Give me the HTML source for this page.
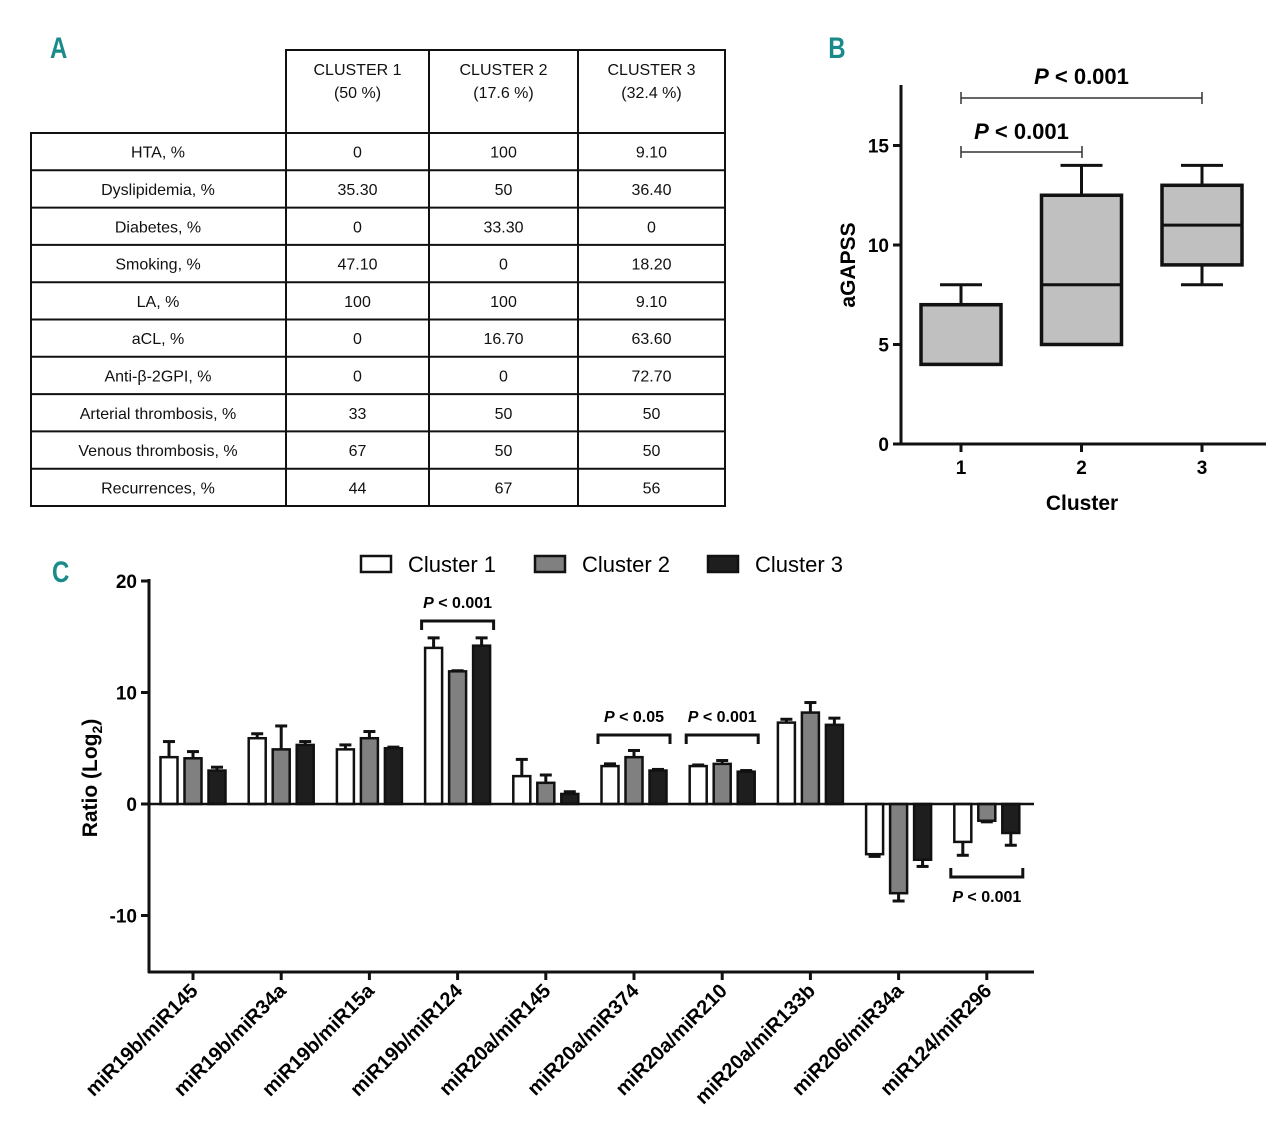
<!DOCTYPE html>
<html><head><meta charset="utf-8"><style>
body{margin:0;background:#fff;}
svg{display:block;font-family:"Liberation Sans",sans-serif;}
.t{font-size:16px;fill:#111;}
</style></head><body>
<svg id="s" width="1280" height="1127" viewBox="0 0 1280 1127">
<g id="tbl"></g>
<g id="pb"></g>
<g id="pc"></g>
<text x="48" y="58" font-size="30" font-weight="bold" fill="#1a8a8a" style="transform:scale(0.8,1);transform-origin:58px 46px">A</text>
<text x="826" y="58" font-size="30" font-weight="bold" fill="#1a8a8a" style="transform:scale(0.8,1);transform-origin:837px 46px">B</text>
<text x="50" y="582" font-size="30" font-weight="bold" fill="#1a8a8a" style="transform:scale(0.8,1);transform-origin:60px 570px">C</text>
</svg>
<script>
const NS="http://www.w3.org/2000/svg";
function mk(p,tag,a,txt){const e=document.createElementNS(NS,tag);for(const k in a)e.setAttribute(k,a[k]);if(txt!==undefined)e.textContent=txt;p.appendChild(e);return e;}

// ---------- Table A ----------
const tblHeaders=[["CLUSTER 1","(50 %)"],["CLUSTER 2","(17.6 %)"],["CLUSTER 3","(32.4 %)"]];
const tblRows=["HTA, %","Dyslipidemia, %","Diabetes, %","Smoking, %","LA, %","aCL, %","Anti-β-2GPI, %","Arterial thrombosis, %","Venous thrombosis, %","Recurrences, %"];
const tblC1=["0","35.30","0","47.10","100","0","0","33","67","44"];
const tblC2=["100","50","33.30","0","100","16.70","0","50","50","67"];
const tblC3=["9.10","36.40","0","18.20","9.10","63.60","72.70","50","50","56"];
const T=document.getElementById('tbl');
const cx=[31,286,429,578,725], rowTop=133, rh=37.3;
let r=mk(T,'rect',{x:286,y:50,width:439,height:83,fill:'none',stroke:'#111','stroke-width':2});

tblHeaders.forEach((h,i)=>{const m=(cx[i+1]+cx[i+2])/2;
 if(i>0)mk(T,'line',{x1:cx[i+1],y1:50,x2:cx[i+1],y2:133,stroke:'#111','stroke-width':2});
 let a=mk(T,'text',{x:m,y:75,'text-anchor':'middle',class:'t'},h[0]);
 mk(T,'text',{x:m,y:98,'text-anchor':'middle',class:'t'},h[1]);});
mk(T,'rect',{x:31,y:rowTop,width:694,height:rh*10,fill:'none',stroke:'#111','stroke-width':2});
for(let i=1;i<4;i++)mk(T,'line',{x1:cx[i],y1:rowTop,x2:cx[i],y2:rowTop+rh*10,stroke:'#111','stroke-width':2});
tblRows.forEach((lab,i)=>{const y=rowTop+rh*i;
 if(i>0)mk(T,'line',{x1:31,y1:y,x2:725,y2:y,stroke:'#111','stroke-width':2});
 const ty=y+rh/2+6;
 let a=mk(T,'text',{x:158,y:ty,'text-anchor':'middle',class:'t'},lab);
 [tblC1,tblC2,tblC3].forEach((col,j)=>{let c=mk(T,'text',{x:(cx[j+1]+cx[j+2])/2,y:ty,'text-anchor':'middle',class:'t'},col[i]);});
});

// ---------- Box plot B ----------
const bCats=["1","2","3"];
const bMin=[4,5,8], bQ1=[4,5,9], bMed=[7,8,11], bQ3=[7,12.5,13], bMax=[8,14,14];
const bTicks=[0,5,10,15];
const B=document.getElementById('pb');
const by=v=>444-v*19.9, bx=i=>961+i*120.5;
mk(B,'line',{x1:901,y1:85,x2:901,y2:445,stroke:'#111','stroke-width':3});
mk(B,'line',{x1:900,y1:444,x2:1266,y2:444,stroke:'#111','stroke-width':3});
bTicks.forEach(t=>{mk(B,'line',{x1:893,y1:by(t),x2:901,y2:by(t),stroke:'#111','stroke-width':3});
 let e=mk(B,'text',{x:889,y:by(t)+7,'text-anchor':'end','font-size':19,'font-weight':'bold'},t);});
bCats.forEach((c,i)=>{const x=bx(i);
 mk(B,'line',{x1:x,y1:444,x2:x,y2:452,stroke:'#111','stroke-width':3});
 let e=mk(B,'text',{x:x,y:474,'text-anchor':'middle','font-size':19,'font-weight':'bold'},c);
 mk(B,'line',{x1:x,y1:by(bMax[i]),x2:x,y2:by(bQ3[i]),stroke:'#111','stroke-width':3});
 mk(B,'line',{x1:x,y1:by(bMin[i]),x2:x,y2:by(bQ1[i]),stroke:'#111','stroke-width':3});
 mk(B,'line',{x1:x-21,y1:by(bMax[i]),x2:x+21,y2:by(bMax[i]),stroke:'#111','stroke-width':3});
 mk(B,'line',{x1:x-21,y1:by(bMin[i]),x2:x+21,y2:by(bMin[i]),stroke:'#111','stroke-width':3});
 let bb=mk(B,'rect',{x:x-40,y:by(bQ3[i]),width:80,height:by(bQ1[i])-by(bQ3[i]),fill:'#c0c0c0',stroke:'#111','stroke-width':3.5});
 
 mk(B,'line',{x1:x-40,y1:by(bMed[i]),x2:x+40,y2:by(bMed[i]),stroke:'#111','stroke-width':3});
});
function brk(g,x1,x2,y,label,ly){mk(g,'line',{x1:x1,y1:y,x2:x2,y2:y,stroke:'#333','stroke-width':1.5});
 mk(g,'line',{x1:x1,y1:y-6,x2:x1,y2:y+6,stroke:'#333','stroke-width':1.5});mk(g,'line',{x1:x2,y1:y-6,x2:x2,y2:y+6,stroke:'#333','stroke-width':1.5});
 let t=mk(g,'text',{x:(x1+x2)/2,y:ly,'text-anchor':'middle','font-size':22,'font-weight':'bold'});
 mk(t,'tspan',{'font-style':'italic'},'P');mk(t,'tspan',{},' < 0.001');}
brk(B,961,1202,98,'',84);brk(B,961,1082,152,'',139);
let yl=mk(B,'text',{x:0,y:0,transform:'translate(855,265) rotate(-90)','text-anchor':'middle','font-size':21,'font-weight':'bold'},'aGAPSS');
let xl=mk(B,'text',{x:1082,y:510,'text-anchor':'middle','font-size':21,'font-weight':'bold'},'Cluster');

// ---------- Bar chart C ----------
const cCats=["miR19b/miR145","miR19b/miR34a","miR19b/miR15a","miR19b/miR124","miR20a/miR145","miR20a/miR374","miR20a/miR210","miR20a/miR133b","miR206/miR34a","miR124/miR296"];
const c1=[4.2,5.9,4.9,14.0,2.5,3.4,3.4,7.3,-4.5,-3.4];
const c1e=[1.4,0.4,0.4,0.9,1.5,0.2,0.1,0.3,0.2,1.2];
const c2=[4.1,4.9,5.9,11.9,1.9,4.2,3.6,8.2,-8.0,-1.5];
const c2e=[0.6,2.1,0.6,0.05,0.7,0.6,0.3,0.9,0.7,0.1];
const c3=[3.0,5.3,5.0,14.2,0.9,3.0,2.9,7.1,-5.0,-2.6];
const c3e=[0.3,0.3,0.1,0.7,0.2,0.1,0.1,0.6,0.6,1.1];
const cTicks=[20,10,0,-10];
const series=[{v:c1,e:c1e,fill:'#fff',name:'Cluster 1'},{v:c2,e:c2e,fill:'#808080',name:'Cluster 2'},{v:c3,e:c3e,fill:'#1e1e1e',name:'Cluster 3'}];
const C=document.getElementById('pc');
const cy=v=>804-v*11.15, gx=i=>193+i*88.2;
mk(C,'line',{x1:149,y1:579,x2:149,y2:973,stroke:'#111','stroke-width':3});
mk(C,'line',{x1:148,y1:972,x2:1034,y2:972,stroke:'#111','stroke-width':3});
cTicks.forEach(t=>{mk(C,'line',{x1:141,y1:cy(t),x2:149,y2:cy(t),stroke:'#111','stroke-width':3});
 let e=mk(C,'text',{x:137,y:cy(t)+7,'text-anchor':'end','font-size':19,'font-weight':'bold'},t);});
cCats.forEach((c,i)=>{const x=gx(i);
 mk(C,'line',{x1:x,y1:972,x2:x,y2:980,stroke:'#111','stroke-width':3});
 let e=mk(C,'text',{x:0,y:0,transform:`translate(${x+6},${992}) rotate(-45)`,'text-anchor':'end','font-size':20,'font-weight':'bold'},c);
 
 series.forEach((s,j)=>{const bxm=x-24+j*24, v=s.v[i], ev=v+(v>=0?s.e[i]:-s.e[i]);
  mk(C,'line',{x1:bxm,y1:cy(v),x2:bxm,y2:cy(ev),stroke:'#111','stroke-width':3});
  mk(C,'line',{x1:bxm-6,y1:cy(ev),x2:bxm+6,y2:cy(ev),stroke:'#111','stroke-width':3});
  let b=mk(C,'rect',{x:bxm-8.5,y:Math.min(cy(v),cy(0)),width:17,height:Math.abs(cy(v)-cy(0)),fill:s.fill,stroke:'#111','stroke-width':2.5});
  
 });
});
mk(C,'line',{x1:149,y1:cy(0),x2:1034,y2:cy(0),stroke:'#111','stroke-width':2.5});
function brk2(i,y,dir,label,ly){const x1=gx(i)-36,x2=gx(i)+36,w='#111';
 mk(C,'polyline',{points:`${x1},${y+dir*9} ${x1},${y} ${x2},${y} ${x2},${y+dir*9}`,fill:'none',stroke:w,'stroke-width':3});
 let t=mk(C,'text',{x:gx(i),y:ly,'text-anchor':'middle','font-size':16,'font-weight':'bold'});
 mk(t,'tspan',{'font-style':'italic'},'P');mk(t,'tspan',{},' < '+label);}
brk2(3,621,1,'0.001',608);brk2(5,735,1,'0.05',722);brk2(6,735,1,'0.001',722);brk2(9,877,-1,'0.001',902);
let cyl=mk(C,'text',{x:0,y:0,transform:'translate(97,778) rotate(-90)','text-anchor':'middle','font-size':21,'font-weight':'bold'});

mk(cyl,'tspan',{},'Ratio (Log');mk(cyl,'tspan',{'font-size':14,dy:5},'2');mk(cyl,'tspan',{dy:-5},')');
const legX=[361,535,708];
series.forEach((s,j)=>{let g=mk(C,'g',{});
 mk(g,'rect',{x:legX[j],y:556,width:30,height:16,fill:s.fill,stroke:'#111','stroke-width':2.5});
 mk(g,'text',{x:legX[j]+47,y:572,'font-size':22},s.name);});
</script>
</body></html>
